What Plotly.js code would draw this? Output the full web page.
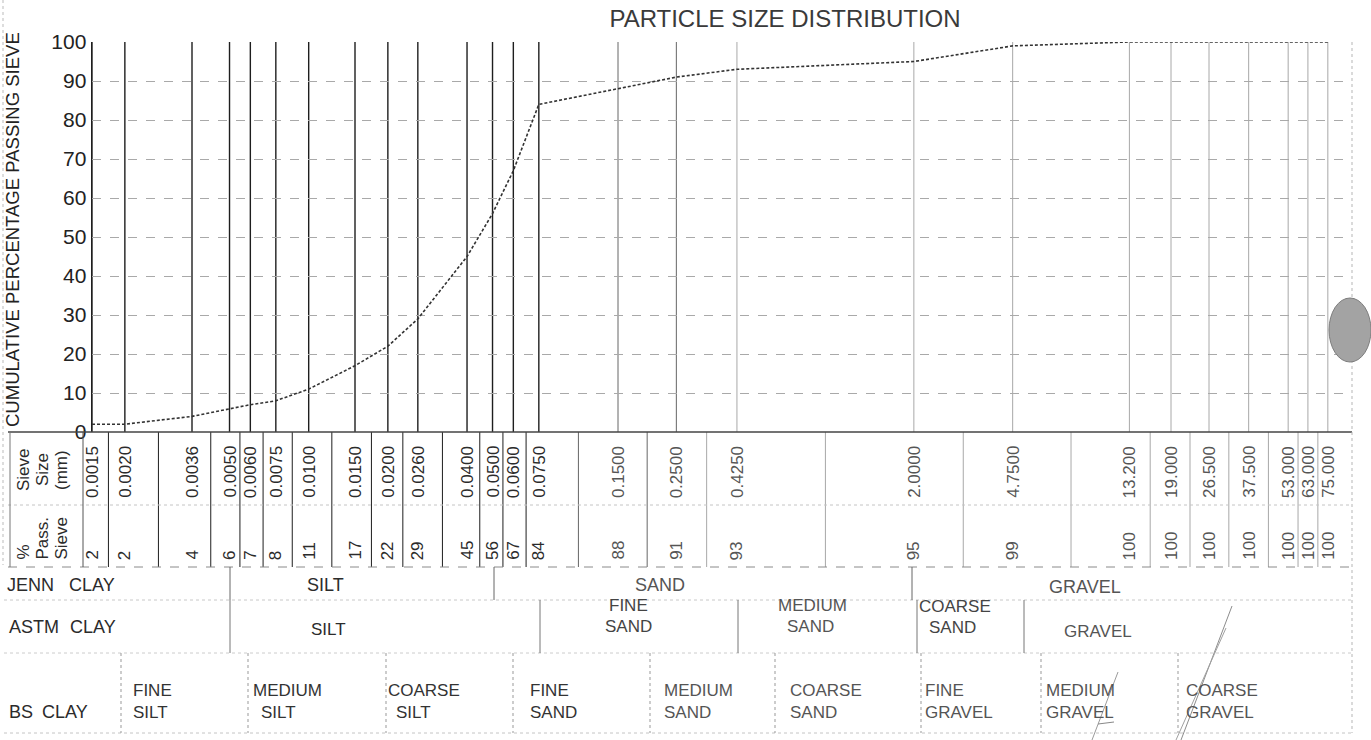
<!DOCTYPE html>
<html>
<head>
<meta charset="utf-8">
<script src="https://cdn.plot.ly/plotly-3.0.1.min.js"></script>
<style>
  html, body { margin: 0; padding: 0; background: #ffffff; }
  #chart { width: 1371px; height: 740px; }
</style>
</head>
<body>
<div id="chart"></div>
<script>
// ---------- data ----------
const sieveSizes = [0.0015, 0.0020, 0.0036, 0.0050, 0.0060, 0.0075, 0.0100, 0.0150, 0.0200, 0.0260,
                    0.0400, 0.0500, 0.0600, 0.0750, 0.1500, 0.2500, 0.4250, 2.0000, 4.7500,
                    13.200, 19.000, 26.500, 37.500, 53.000, 63.000, 75.000];
const sieveLabels = ['0.0015', '0.0020', '0.0036', '0.0050', '0.0060', '0.0075', '0.0100', '0.0150', '0.0200', '0.0260',
                     '0.0400', '0.0500', '0.0600', '0.0750', '0.1500', '0.2500', '0.4250', '2.0000', '4.7500',
                     '13.200', '19.000', '26.500', '37.500', '53.000', '63.000', '75.000'];
const passing = [2, 2, 4, 6, 7, 8, 11, 17, 22, 29, 45, 56, 67, 84, 88, 91, 93, 95, 99, 100, 100, 100, 100, 100, 100, 100];
const yTicks = [0, 10, 20, 30, 40, 50, 60, 70, 80, 90, 100];

const chartTitle = 'PARTICLE SIZE DISTRIBUTION';
const yTitle = 'CUMULATIVE PERCENTAGE PASSING SIEVE';
const sizeHeader = ['Sieve', 'Size', '(mm)'];
const passHeader = ['%', 'Pass.', 'Sieve'];
const jennLabels = ['JENN', 'CLAY', 'SILT', 'SAND', 'GRAVEL'];
const astmLabels = ['ASTM', 'CLAY', 'SILT', 'FINE', 'SAND', 'MEDIUM', 'SAND', 'COARSE', 'SAND', 'GRAVEL'];
const bsLabels = ['BS', 'CLAY', 'FINE', 'SILT', 'MEDIUM', 'SILT', 'COARSE', 'SILT', 'FINE', 'SAND',
                  'MEDIUM', 'SAND', 'COARSE', 'SAND', 'FINE', 'GRAVEL', 'MEDIUM', 'GRAVEL', 'COARSE', 'GRAVEL'];

// ---------- layout geometry (pixels of the 1371x740 page) ----------
const W = 1371, H = 740;
const PL = 92, PR = 1352, PT = 42, PB = 432;
const px = x => (x - PL) / (PR - PL);
const py = y => (PB - y) / (PB - PT);
const xLo = Math.log10(sieveSizes[0]);
const xHi = xLo + (PR - PL) / 263;

const SANS = 'Liberation Sans, Arial, sans-serif';
const NARROW = 'Liberation Sans Narrow, Liberation Sans, Arial Narrow, sans-serif';
const INK = '#2b2b2b';

function lineColor(s) {
  if (s <= 0.08) return '#1e1e1e';
  if (s <= 0.3) return '#666666';
  return '#a8a8a8';
}

const shapes = [];
const annotations = [];

// vertical grid lines at sieve sizes
sieveSizes.forEach(s => {
  shapes.push({type: 'line', layer: 'below', xref: 'x', yref: 'paper', x0: s, x1: s, y0: 0, y1: 1,
               line: {color: lineColor(s), width: s <= 0.08 ? 1.4 : 1}});
});
// table column separators (geometric mid-points between sizes)
for (let i = 0; i < sieveSizes.length - 1; i++) {
  const m = Math.sqrt(sieveSizes[i] * sieveSizes[i + 1]);
  shapes.push({type: 'line', xref: 'x', yref: 'paper', x0: m, x1: m, y0: py(PB), y1: py(567),
               line: {color: lineColor(m), width: 1}});
}
function hline(y, x0, x1, color, dash, width) {
  shapes.push({type: 'line', xref: 'paper', yref: 'paper', x0: px(x0), x1: px(x1), y0: py(y), y1: py(y),
               line: {color: color, width: width || 1, dash: dash || 'solid'}});
}
function vline(x, y0, y1, color, dash, width) {
  shapes.push({type: 'line', xref: 'paper', yref: 'paper', x0: px(x), x1: px(x), y0: py(y0), y1: py(y1),
               line: {color: color, width: width || 1, dash: dash || 'solid'}});
}
// table frame
hline(PB, 8, PR, '#444', 'solid', 1.3);
hline(505, 8, PR, '#c4c4c4', 'dot', 1);
hline(567, 8, PR, '#8a8a8a', 'dash', 1);
hline(600, 4, PR, '#c8c8c8', 'dot', 1);
hline(653, 4, PR, '#cccccc', 'dot', 1);
hline(733, 4, PR, '#c4c4c4', 'dot', 1);
vline(10, PB, 567, '#777', 'solid', 1);
vline(83, PB, 567, '#555', 'solid', 1);
vline(PR, PT, 733, '#b5b5b5', 'dot', 1);
vline(3, 0, 565, '#bbbbbb', 'dot', 1);
// classification separators
[230, 494, 912].forEach(x => vline(x, 567, 600, '#666'));
[230, 540, 738, 917, 1024].forEach(x => vline(x, 600, 653, '#777'));
[121, 248, 386, 513, 650, 775, 921, 1041, 1178].forEach(x => vline(x, 653, 733, '#999', 'dot'));
// scan artefacts: punch mark and pen strokes
shapes.push({type: 'circle', xref: 'paper', yref: 'paper', x0: px(1329), x1: px(1371), y0: py(298), y1: py(362),
             fillcolor: '#a3a3a3', line: {color: '#7d7d7d', width: 1}});
shapes.push({type: 'line', xref: 'paper', yref: 'paper', x0: px(1232), x1: px(1181), y0: py(606), y1: py(740), line: {color: '#8c8c8c', width: 1}});
shapes.push({type: 'line', xref: 'paper', yref: 'paper', x0: px(1226), x1: px(1176), y0: py(628), y1: py(740), line: {color: '#a0a0a0', width: 1}});
shapes.push({type: 'line', xref: 'paper', yref: 'paper', x0: px(1118), x1: px(1092), y0: py(672), y1: py(740), line: {color: '#9a9a9a', width: 1}});
shapes.push({type: 'line', xref: 'paper', yref: 'paper', x0: px(1098), x1: px(1114), y0: py(724), y1: py(722), line: {color: '#888', width: 1}});

function txt(text, xPix, yPix, o) {
  o = o || {};
  annotations.push({xref: 'paper', yref: 'paper', x: px(xPix), y: py(yPix), text: text, showarrow: false,
    xanchor: o.xa || 'left', yanchor: o.ya || 'middle', textangle: o.angle || 0,
    font: {family: o.family || NARROW, size: o.size || 18, color: o.color || INK}});
}

// y axis title
txt(yTitle, 13, 230, {family: SANS, size: 18.5, angle: -90, xa: 'center', color: '#222'});

// table headers
sizeHeader.forEach((t, i) => txt(t, [23, 42, 61][i], 470, {family: SANS, size: 17, angle: -90, xa: 'center'}));
passHeader.forEach((t, i) => txt(t, [23, 42, 61][i], 562, {family: SANS, size: 17, angle: -90, xa: 'center', ya: 'bottom'}));

// sieve sizes and % passing, placed on the x scale
sieveSizes.forEach((s, i) => {
  const c = s <= 0.08 ? '#2b2b2b' : '#555';
  annotations.push({xref: 'x', yref: 'paper', x: Math.log10(s), y: py(472), text: sieveLabels[i], showarrow: false,
    textangle: -90, xanchor: 'center', yanchor: 'middle', font: {family: SANS, size: 17, color: c}});
  annotations.push({xref: 'x', yref: 'paper', x: Math.log10(s), y: py(562), text: String(passing[i]), showarrow: false,
    textangle: -90, xanchor: 'center', yanchor: 'bottom', font: {family: SANS, size: 17, color: c}});
});

// JENN row
txt(jennLabels[0], 5, 585);
txt(jennLabels[1], 67, 585);
txt(jennLabels[2], 325, 585, {xa: 'center'});
txt(jennLabels[3], 660, 585, {xa: 'center', color: '#555'});
txt(jennLabels[4], 1085, 587, {xa: 'center', color: '#555'});
// ASTM row
txt(astmLabels[0], 7, 627);
txt(astmLabels[1], 68, 627);
txt(astmLabels[2], 328, 629, {xa: 'center', size: 17});
txt(astmLabels[3], 628, 605, {xa: 'center', size: 17, color: '#444'});
txt(astmLabels[4], 628, 626, {xa: 'center', size: 17, color: '#444'});
txt(astmLabels[5], 812, 605, {xa: 'center', size: 17, color: '#555'});
txt(astmLabels[6], 810, 626, {xa: 'center', size: 17, color: '#555'});
txt(astmLabels[7], 955, 606, {xa: 'center', size: 17, color: '#444'});
txt(astmLabels[8], 952, 627, {xa: 'center', size: 17, color: '#444'});
txt(astmLabels[9], 1098, 631, {xa: 'center', size: 17, color: '#555'});
// BS row
txt(bsLabels[0], 7, 712);
txt(bsLabels[1], 40, 712);
const bsLeft = [131, 251, 386, 528, 662, 788, 923, 1044, 1184];
for (let k = 0; k < 9; k++) {
  const c = k < 4 ? '#333' : '#555';
  txt(bsLabels[2 + 2 * k], bsLeft[k], 690, {size: 17, color: c});
  txt(bsLabels[3 + 2 * k], bsLeft[k] + (k === 1 || k === 2 ? 8 : 0), 712, {size: 17, color: c});
}

const trace = {
  type: 'scatter', mode: 'lines', x: sieveSizes, y: passing,
  line: {color: '#333333', width: 1.6, dash: '3px,2px'}, hoverinfo: 'skip', showlegend: false
};

const layout = {
  width: W, height: H,
  paper_bgcolor: '#ffffff', plot_bgcolor: '#ffffff',
  margin: {l: PL, r: W - PR, t: PT, b: H - PB, pad: 0},
  title: {text: chartTitle, x: px(785), xref: 'paper', xanchor: 'center', y: 1 - 19 / H, yref: 'container', yanchor: 'middle',
          font: {family: SANS, size: 24, color: '#3a3a3a'}},
  xaxis: {type: 'log', range: [xLo, xHi], showgrid: false, zeroline: false, showline: false,
          showticklabels: false, ticks: '', fixedrange: true},
  yaxis: {range: [0, 100], tickvals: yTicks, ticktext: yTicks.map(String), showgrid: true,
          gridcolor: '#a9a9a9', griddash: 'dash', gridwidth: 1, zeroline: false,
          showline: true, linecolor: '#1e1e1e', linewidth: 1.4, ticks: '',
          tickfont: {family: SANS, size: 21, color: '#222'}, fixedrange: true},
  shapes: shapes,
  annotations: annotations,
  showlegend: false
};

Plotly.newPlot('chart', [trace], layout, {displayModeBar: false, staticPlot: true});
</script>
</body>
</html>
